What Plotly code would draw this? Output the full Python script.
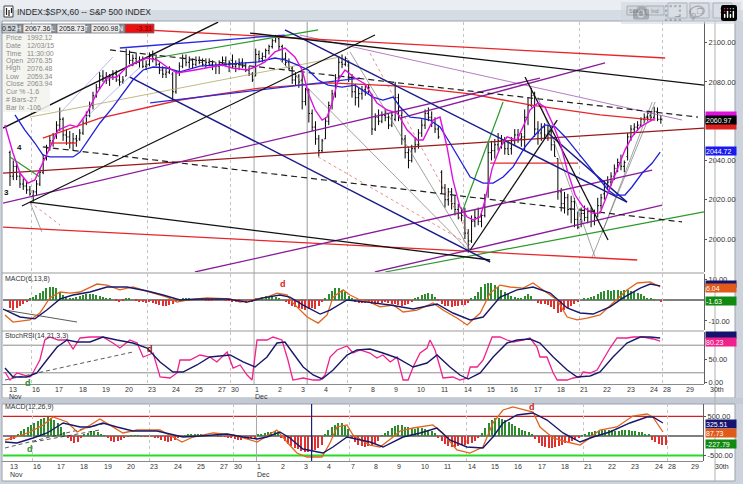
import plotly.graph_objects as go

W, H = 743, 484

# ---------------- data ----------------
day_labels = ["13", "16", "17", "18", "19", "20", "23", "24", "25", "27", "30", "1", "2", "3", "4", "7",
              "8", "9", "10", "11", "14", "15", "16", "17", "18", "21", "22", "23", "24", "28", "29", "30th"]
day_first_bar = [0, 7, 14, 21, 28, 35, 42, 49, 56, 63, 67, 74, 81, 88, 95, 102,
                 109, 116, 123, 130, 137, 144, 151, 158, 165, 172, 179, 186, 193, 197, 204, 211]
month_names = ["Nov", "Dec"]
month_first_bar = [0, 74]
monday_first_bar = [7, 42, 67, 102, 137, 172, 197]
cursor_bar = 90

bar_open = [2044, 2032, 2037, 2032, 2028, 2027, 2025, 2022, 2024, 2028, 2034, 2041, 2046, 2050,
            2053, 2058, 2061, 2053, 2052, 2049, 2051, 2051, 2054, 2059, 2063, 2068, 2073, 2077,
            2083, 2082, 2081, 2083, 2084, 2081, 2080, 2083, 2094, 2091, 2092, 2090, 2091, 2088,
            2089, 2093, 2092, 2089, 2086, 2084, 2085, 2084, 2075, 2085, 2088, 2092, 2090, 2091,
            2089, 2091, 2090, 2089, 2090, 2089, 2088, 2088, 2089, 2091, 2089,
            2091, 2088, 2089, 2090, 2088, 2086, 2084, 2083, 2094, 2092, 2093, 2096, 2098, 2101,
            2102, 2098, 2092, 2090, 2087, 2081, 2083, 2081, 2070, 2076.35, 2064, 2057, 2051, 2045,
            2051, 2060, 2068, 2074, 2082, 2090, 2089, 2090, 2082, 2075, 2072, 2074, 2076, 2075,
            2073, 2056, 2062, 2060, 2063, 2062, 2058, 2061, 2072, 2063, 2051, 2044, 2040, 2046,
            2048, 2054, 2058, 2064, 2062, 2059, 2056, 2034, 2026, 2020, 2024, 2018, 2015, 2013,
            2013, 2003, 1999, 2009, 2011, 2009, 2012, 2026, 2044, 2045, 2048, 2050, 2049, 2046,
            2046, 2050, 2053, 2051, 2052, 2062, 2068, 2073, 2056, 2054, 2057, 2053, 2055, 2048,
            2041, 2024, 2018, 2021, 2015, 2019, 2010, 2010, 2013, 2011, 2014, 2009, 2013, 2017,
            2023, 2027, 2029, 2032, 2036, 2039, 2037, 2042, 2052, 2056, 2057, 2058, 2061, 2062,
            2063, 2062, 2065, 2061]
bar_high = [2045, 2040, 2039, 2034, 2031, 2029, 2027, 2025, 2030, 2036, 2043, 2048, 2053, 2054,
            2060, 2067, 2062, 2056, 2055, 2054, 2053, 2056, 2061, 2065, 2070, 2075, 2079, 2085,
            2086, 2085, 2084, 2086, 2086, 2084, 2083, 2097, 2096, 2094, 2095, 2093, 2093, 2091,
            2095, 2096, 2094, 2090, 2088, 2087, 2088, 2085, 2086, 2090, 2094, 2094, 2093, 2092,
            2093, 2093, 2092, 2092, 2092, 2091, 2090, 2091, 2093, 2093, 2091,
            2094, 2091, 2092, 2092, 2090, 2088, 2085, 2097, 2096, 2095, 2097, 2099, 2102, 2104,
            2104, 2099, 2095, 2092, 2088, 2085, 2084, 2085, 2077, 2076.48, 2066, 2060, 2053, 2051,
            2062, 2070, 2076, 2084, 2093, 2094, 2093, 2091, 2084, 2079, 2077, 2078, 2079, 2079,
            2074, 2064, 2066, 2065, 2066, 2064, 2065, 2080, 2074, 2066, 2053, 2047, 2048, 2052,
            2056, 2061, 2066, 2067, 2065, 2062, 2058, 2035, 2028, 2026, 2026, 2022, 2018, 2016,
            2016, 2005, 2012, 2015, 2016, 2014, 2023, 2049, 2050, 2051, 2054, 2053, 2052, 2050,
            2052, 2056, 2056, 2054, 2066, 2072, 2077, 2075, 2060, 2059, 2059, 2058, 2056, 2050,
            2041, 2026, 2024, 2023, 2022, 2021, 2014, 2016, 2017, 2016, 2016, 2015, 2021, 2023,
            2030, 2032, 2034, 2038, 2041, 2043, 2040, 2054, 2058, 2059, 2060, 2062, 2064, 2065,
            2065, 2067.36, 2067, 2063]
bar_low = [2027, 2030, 2030, 2026, 2025, 2023, 2022, 2019, 2022, 2027, 2033, 2040, 2045, 2047,
           2051, 2055, 2050, 2048, 2046, 2045, 2047, 2050, 2053, 2058, 2062, 2066, 2072, 2076,
           2080, 2079, 2078, 2081, 2080, 2078, 2079, 2083, 2089, 2088, 2089, 2087, 2087, 2086,
           2088, 2090, 2088, 2084, 2082, 2082, 2084, 2070, 2074, 2083, 2087, 2088, 2087, 2087,
           2088, 2089, 2088, 2087, 2088, 2086, 2084, 2084, 2088, 2088, 2085,
           2087, 2085, 2086, 2087, 2085, 2083, 2080, 2083, 2090, 2090, 2092, 2094, 2097, 2100,
           2096, 2090, 2088, 2086, 2079, 2078, 2077, 2066, 2068, 2059.34, 2055, 2048, 2042, 2044,
           2051, 2058, 2066, 2072, 2080, 2087, 2088, 2080, 2072, 2068, 2067, 2071, 2073, 2074,
           2053, 2055, 2058, 2059, 2060, 2056, 2057, 2060, 2060, 2048, 2041, 2036, 2039, 2044,
           2046, 2052, 2056, 2060, 2057, 2054, 2051, 2023, 2016, 2017, 2015, 2012, 2010, 2009,
           2000, 1993, 1998, 2006, 2007, 2006, 2011, 2021, 2040, 2041, 2045, 2046, 2043, 2043,
           2043, 2048, 2049, 2047, 2045, 2058, 2067, 2052, 2048, 2050, 2051, 2050, 2045, 2042,
           2020, 2014, 2013, 2012, 2008, 2006, 2005, 2006, 2009, 2008, 2006, 2007, 2011, 2015,
           2020, 2025, 2027, 2030, 2034, 2035, 2034, 2040, 2050, 2053, 2055, 2057, 2059, 2060,
           2060, 2061, 2060, 2058.73]
bar_close = [2032, 2037, 2032, 2028, 2027, 2025, 2023, 2024, 2028, 2034, 2041, 2046, 2050, 2053,
             2058, 2061, 2053, 2052, 2049, 2051, 2050, 2054, 2059, 2063, 2068, 2073, 2077, 2083,
             2082, 2081, 2083, 2084, 2081, 2080, 2081, 2094, 2091, 2092, 2090, 2091, 2088, 2089,
             2093, 2092, 2089, 2086, 2084, 2085, 2087, 2075, 2085, 2088, 2092, 2090, 2091, 2089,
             2091, 2090, 2089, 2090, 2089, 2088, 2088, 2089, 2091, 2089, 2090,
             2088, 2089, 2090, 2088, 2086, 2084, 2081, 2094, 2092, 2093, 2096, 2098, 2101, 2103,
             2098, 2092, 2090, 2087, 2081, 2083, 2080, 2070, 2076, 2063.94, 2057, 2051, 2045, 2050,
             2060, 2068, 2074, 2082, 2090, 2089, 2092, 2082, 2075, 2072, 2074, 2076, 2075, 2077,
             2056, 2062, 2060, 2063, 2062, 2058, 2063, 2072, 2063, 2051, 2044, 2040, 2046, 2048,
             2054, 2058, 2064, 2062, 2059, 2056, 2052, 2026, 2020, 2024, 2018, 2015, 2013, 2012,
             2003, 1999, 2009, 2011, 2009, 2012, 2021, 2044, 2045, 2048, 2050, 2049, 2046, 2043,
             2050, 2053, 2051, 2052, 2062, 2068, 2073, 2056, 2054, 2057, 2053, 2055, 2048, 2042,
             2024, 2018, 2021, 2015, 2019, 2010, 2006, 2013, 2011, 2014, 2009, 2013, 2017, 2021,
             2027, 2029, 2032, 2036, 2039, 2037, 2039, 2052, 2056, 2057, 2058, 2061, 2062, 2064,
             2062, 2065, 2061, 2060.98]

# moving averages on the price panel (bar position, price)
ma_fast_x = [-1.5, 0.9, 3.0, 5.4, 7.5, 9.9, 12.0, 14.5, 18.1, 20.2, 23.2, 26.2, 29.2, 32.2, 35.2, 38.3,
             41.3, 44.3, 47.3, 50.3, 55.7, 63.9, 66.9, 71.4, 73.8, 76.8, 79.8, 82.8, 85.8, 88.0, 89.8,
             91.9, 94.0, 95.5, 97.0, 98.8, 100.9, 103.9, 106.9, 110.5, 113.6, 116.6, 119.6, 122.6,
             124.4, 127.4, 129.5, 131.6, 133.4, 135.5, 137.7, 139.5, 141.6, 143.1, 145.2, 147.6,
             149.7, 152.7, 154.5, 156.6, 159.0, 161.1, 163.6, 165.7, 167.8, 170.2, 172.6, 175.3,
             177.7, 179.2, 180.7, 182.8, 185.2, 187.3, 189.8, 192.2, 194.3]
ma_fast_y = [2058.1, 2043.8, 2033.6, 2028.5, 2030.1, 2038.7, 2046.9, 2055.5, 2058.1, 2057.1, 2064.2,
             2074.4, 2082.0, 2082.5, 2087.6, 2090.2, 2092.2, 2091.2, 2087.6, 2084.6, 2086.1, 2088.6,
             2087.1, 2086.1, 2087.6, 2090.2, 2095.3, 2097.3, 2092.7, 2086.1, 2074.4, 2065.7, 2060.6,
             2062.1, 2069.3, 2081.0, 2086.1, 2082.0, 2079.0, 2069.3, 2065.7, 2064.2, 2055.5, 2050.4,
             2050.4, 2060.6, 2062.1, 2046.9, 2030.1, 2016.3, 2011.2, 2009.7, 2011.2, 2020.0, 2036.0,
             2046.5, 2052.0, 2050.4, 2057.1, 2065.7, 2069.3, 2067.2, 2058.1, 2048.9, 2035.1, 2022.4,
             2016.3, 2013.2, 2013.2, 2019.9, 2026.5, 2035.1, 2045.3, 2052.0, 2057.1, 2059.6, 2061.6]
ma_slow_x = [1.5, 4.5, 7.5, 9.9, 12.0, 19.0, 21.1, 24.1, 27.1, 31.0, 34.0, 37.0, 40.1, 43.1, 47.3,
             51.2, 57.2, 69.9, 74.7, 79.8, 82.8, 86.7, 89.8, 92.8, 95.8, 100.0, 103.9, 109.3, 112.3,
             115.4, 117.5, 120.5, 123.5, 126.5, 129.5, 132.5, 135.5, 138.6, 142.5, 145.5, 148.5,
             151.5, 155.1, 158.1, 161.1, 164.2, 167.2, 171.1, 175.3, 178.3, 180.1, 182.2, 185.2,
             187.3, 190.4, 193.4, 195.8]
ma_slow_y = [2063.2, 2055.5, 2048.9, 2042.8, 2041.8, 2041.8, 2044.3, 2052.0, 2059.1, 2067.2, 2074.4,
             2081.0, 2086.1, 2087.6, 2087.1, 2085.1, 2088.1, 2089.7, 2090.2, 2092.2, 2091.2, 2088.6,
             2086.1, 2081.0, 2078.4, 2077.4, 2078.4, 2072.3, 2070.8, 2072.3, 2067.2, 2062.1, 2061.6,
             2060.6, 2057.1, 2048.9, 2040.2, 2031.6, 2028.5, 2028.5, 2031.6, 2036.7, 2046.9, 2053.0,
             2058.1, 2057.1, 2052.0, 2043.8, 2035.1, 2028.5, 2025.0, 2022.4, 2022.4, 2026.5, 2033.6,
             2038.7, 2044.3]

# drawn trend lines: (bar0, price0, bar1, price1)
black_lines = [(-2.1, 2056.5, 62.7, 2110.5), (3.6, 2016.8, 109.9, 2103.9), (6.0, 2018.8, 144.6, 1989.3),
               (72.3, 2104.9, 209.0, 2078.4), (138.6, 1994.4, 164.8, 2060.6), (155.1, 2082.5, 180.1, 1999.5)]
red_lines = [(13.0, 2109.0, 197.3, 2092.2), (-2.1, 2006.1, 188.9, 1989.3), (144.6, 2038.7, 171.1, 2038.7),
             (12.0, 2048.9, 20.2, 2048.9)]
red_arc_x = [9.9, 27.1, 51.2, 75.3, 96.4, 117.5, 138.6, 156.6, 177.7, 194.3]
red_arc_y = [2051.4, 2061.6, 2070.8, 2076.9, 2079.5, 2077.9, 2073.9, 2068.3, 2063.2, 2060.6]
maroon_lines = [(-2.1, 2033.6, 209.0, 2056.5)]
navy_lines = [(36.1, 2082.5, 144.6, 1988.3), (82.8, 2106.5, 185.8, 2018.8), (162.0, 2054.0, 185.8, 2018.8)]
blue_lines = [(42.2, 2069.3, 105.4, 2082.0), (33.1, 2097.3, 82.8, 2103.9)]
green_lines = [(43.7, 2092.2, 92.8, 2106.5), (113.0, 1983.2, 209.0, 2013.8), (136.4, 2014.8, 148.5, 2069.8),
               (0.0, 2041.8, 9.0, 2031.6)]
purple_lines = [(-2.1, 2018.3, 159.6, 2082.0), (55.7, 1983.2, 193.4, 2035.1), (109.9, 1983.2, 196.4, 2017.3),
                (117.5, 2061.6, 179.2, 2089.7)]
purple_thin_lines = [(87.3, 2103.9, 202.4, 2060.6)]
dashed_lines = [(9.9, 2046.9, 202.4, 2008.7), (30.1, 2096.3, 207.2, 2062.1)]
gray_thin_lines = [(81.3, 2091.2, 138.0, 1994.4), (102.4, 2095.3, 138.6, 1994.4), (159.0, 2072.3, 176.2, 1990.8),
                   (175.3, 1990.8, 194.3, 2069.8), (178.3, 2003.1, 193.4, 2069.8), (6.0, 2018.8, 9.6, 2003.6)]
olive_thin_lines = [(6.0, 2062.1, 99.4, 2092.7)]
red_thin_lines = [(92.8, 2041.8, 138.6, 1996.9), (108.4, 2094.7, 138.6, 2001.0), (6.0, 2018.8, 15.1, 2007.1)]
lavender_thin_lines = [(15.1, 2064.2, 31.0, 2092.7), (21.1, 2059.1, 39.2, 2087.6)]

# MACD(6,13,8)
macd1_hist = [-4, -5, -4, -3, -2, -1,
              0.5, 1.5, 2.5, 3.5, 4.5, 5.5, 6, 6.2, 5.5, 4, 2.5, 1.5,
              1, 1, 1.5, 2, 2.5, 3, 3, 3, 2.5, 2, 1.5, 1, 0.5,
              0, -0.5, -1, -0.5, 0.5, 0.5, 0, -0.5, -1, -1, -1.5, -1, -1.5, -2, -2.5, -3, -3, -2.5, -2, -1, 0,
              0.5, 0.5, 0.5, 0.3, 0.3, 0.3, 0.2, -0.2, -0.3, -0.3, 0.2, 0.3, 0.2, -0.3, -0.5, -0.8, -1, -0.8,
              -1, -1.2, -1, -0.8,
              0.5, 1, 1.5, 2, 2, 2, 1.5, 1, 0,
              -1, -2, -3, -3.5, -4, -4.5, -5, -4.5, -4, -4.5, -3,
              -1, 1, 3, 4.5, 5.5, 5.5, 5, 4, 2, 0.5,
              -1, -1.5, -1.5, -1.5, -1,
              -2, -2.5, -2, -1.5, -1, -1.5, -2, -2, -2.5, -3, -2.5, -2, -1,
              0.5, 1.5, 2.5, 3, 3.5, 3, 1.5,
              -0.5, -2, -3, -3, -3.5, -3, -3, -2.5, -2.5, -1.5,
              0.5, 2, 4, 6, 7.5, 8, 8, 7, 6, 5, 4, 3, 2, 1.5,
              1, 1, 2, 3, 2,
              0, -1.5, -2, -2, -2.5, -3.5, -4.5, -6, -5.5, -5, -4, -3, -2, -1,
              0, 0.5, 1, 1.5, 2, 3, 4, 4.5, 5, 4.5, 5, 5, 4.5, 5, 5, 4.5, 4, 3.5, 3, 2,
              1, 0.5, 0.3, 0, -1]
macd1_signal_x = [-2.1, 3.0, 7.5, 11.1, 15.1, 19.0, 24.1, 29.2, 35.2, 41.3, 46.1, 51.2, 57.2, 65.4, 71.4,
                  76.2, 81.3, 84.3, 88.3, 93.4, 96.4, 101.5, 107.5, 114.5, 121.4, 128.6, 133.4, 138.6,
                  142.5, 147.6, 152.7, 157.5, 162.7, 167.8, 171.7, 175.6, 180.7, 184.6, 189.8, 192.8, 195.8]
macd1_signal_y = [-4.3, -8.1, -9.0, -4.8, 0.5, 2.4, 3.8, 6.2, 6.2, 4.3, 2.4, 0, 0.5, 0.5, -1.0, 1.0, 2.4,
                  1.4, -2.4, -6.7, -4.8, 0, -1.0, -2.4, -4.3, -1.9, -6.2, -9.5, -8.1, 1.4, 4.8, 6.2, 3.3,
                  -3.8, -6.2, -6.7, -3.3, 1.0, 5.7, 7.6, 6.7]
macd1_line_x = [-1.5, 0.9, 6.0, 9.0, 12.0, 15.1, 18.1, 21.1, 26.2, 29.2, 33.1, 37.0, 42.2, 47.3, 50.3,
                53.3, 59.3, 66.3, 69.3, 73.2, 77.4, 80.4, 83.4, 85.2, 89.5, 92.8, 95.5, 97.3, 100.3,
                102.4, 105.4, 108.4, 111.4, 115.4, 118.4, 122.6, 127.4, 130.4, 134.6, 137.7, 141.6,
                144.6, 147.6, 150.6, 154.5, 157.5, 160.5, 164.8, 167.8, 170.8, 173.8, 177.7, 181.6,
                185.8, 188.9, 192.8, 195.8]
macd1_line_y = [-7.1, -10.5, -9.5, -6.2, 1.0, 3.8, 3.3, 3.8, 7.6, 7.1, 4.8, 6.2, 3.8, 1.4, -1.0, 0, 1.0,
                0.5, -1.0, 0, 1.4, 3.3, 2.4, -1.4, -8.1, -11.0, -7.1, 1.4, 4.8, 2.4, 0, -1.0, -3.3, -2.4,
                -5.7, -4.8, -1.4, -4.8, -8.6, -11.9, -6.2, 3.3, 7.1, 6.2, 5.7, 8.1, 4.8, 0, -8.1, -9.5,
                -8.6, -7.1, -1.4, 4.8, 8.1, 8.6, 6.2]

# StochRSI(14,21,3,3)
stoch_k_x = [-1.5, 0, 2.1, 3.9, 6.0, 6.9, 9.0, 10.5, 12.0, 14.5, 17.2, 19.0, 21.1, 24.1, 28.0, 31.0, 33.1,
             36.1, 38.3, 40.1, 43.1, 45.2, 48.2, 50.3, 51.2, 54.2, 57.2, 60.2, 62.3, 65.4, 67.2, 69.3,
             71.4, 72.9, 74.4, 77.4, 79.2, 81.9, 83.7, 85.2, 88.3, 91.3, 93.4, 94.9, 96.4, 98.5, 101.5,
             103.3, 105.4, 108.4, 110.5, 112.3, 114.5, 116.6, 118.4, 119.9, 121.4, 123.5, 125.6, 126.5,
             128.0, 129.5, 130.4, 133.4, 135.5, 137.7, 138.6, 140.7, 142.5, 145.2, 147.6, 149.7, 151.5,
             154.5, 156.6, 158.7, 159.6, 161.7, 163.6, 164.8, 167.8, 169.6, 171.7, 172.6, 174.7, 176.8,
             178.6, 180.7, 182.8, 185.8, 187.7, 190.7, 193.7, 195.8]
stoch_k_y = [21.7, 4.3, 19.6, 15.2, 10.9, 19.6, 47.8, 91.3, 97.8, 91.3, 91.3, 71.7, 95.7, 97.8, 97.8, 84.8,
             73.9, 91.3, 84.8, 54.3, 63.0, 10.9, 8.7, 19.6, 47.8, 47.8, 58.7, 54.3, 43.5, 65.2, 30.4, 37.0,
             15.2, 4.3, 91.3, 91.3, 97.8, 91.3, 47.8, 4.3, 8.7, 4.3, 4.3, 15.2, 54.3, 69.6, 78.3, 63.0,
             69.6, 63.0, 52.2, 58.7, 43.5, 54.3, 4.3, 4.3, 32.6, 63.0, 73.9, 91.3, 69.6, 32.6, 8.7, 10.9,
             4.3, 8.7, 32.6, 32.6, 47.8, 97.8, 97.8, 91.3, 87.0, 91.3, 95.7, 76.1, 54.3, 54.3, 19.6, 4.3,
             4.3, 8.7, 10.9, 21.7, 19.6, 26.1, 47.8, 73.9, 95.7, 95.7, 97.8, 97.8, 93.5, 89.1]
stoch_d_x = [-1.5, 0.9, 5.1, 8.1, 11.1, 14.2, 17.2, 20.2, 24.1, 28.0, 32.2, 37.0, 41.3, 45.2, 49.1, 52.1,
             56.3, 60.2, 66.3, 70.2, 73.8, 77.4, 80.4, 82.8, 85.2, 88.3, 91.3, 94.0, 97.3, 101.5, 104.5,
             108.4, 112.3, 116.6, 121.4, 125.6, 128.6, 132.5, 135.5, 138.0, 141.6, 145.5, 149.7, 152.7,
             156.6, 159.6, 163.6, 167.8, 170.8, 174.7, 177.7, 181.6, 185.8, 189.8, 192.8, 195.8]
stoch_d_y = [30.4, 10.9, 10.9, 19.6, 47.8, 76.1, 91.3, 87.0, 87.0, 97.8, 91.3, 84.8, 73.9, 43.5, 21.7, 21.7,
             37.0, 54.3, 58.7, 43.5, 32.6, 54.3, 84.8, 87.0, 63.0, 32.6, 15.2, 6.5, 26.1, 58.7, 69.6, 71.7,
             63.0, 52.2, 32.6, 41.3, 58.7, 32.6, 15.2, 6.5, 19.6, 54.3, 84.8, 91.3, 93.5, 84.8, 54.3, 26.1,
             10.9, 13.0, 21.7, 54.3, 84.8, 97.8, 97.8, 95.7]

# MACD(12,26,9) lower window
macd2_hist = [-100, -80, 60, 120, 180, 220, 280, 330, 380, 430,
              470, 485, 470, 420, 330, 230, 100, -60, -130, -178,
              -150, -60, 40, 80, 120, 130, 100, 60, 20, -60,
              -120, -150, -140, -100, -60, -20, 10, 20, 10, -10,
              -20, -10, 0, -30, -60, -100, -140, -150, -130, -90,
              -40, 0, 20, 30, 30, 40, 40, 30, 20, 20,
              10, 0, -10, -20, -10, -30, -50, -80, -100, -90,
              -80, -70, -60, -30, 30, 60, 80, 100, 110, 120,
              80, -40, -120, -200, -260, -300, -340, -380, -400, -408,
              -380, -350, -300, -220, 60, 150, 230, 290, 330, 320,
              260, 180, -50, -150, -220, -260, -280, -250, -230, -200,
              -120, 20, 80, 140, 200, 250, 281, 270, 240, 220,
              200, 190, 200, 210, 190, 160, 130, 80, -40, -120,
              -200, -250, -280, -270, -250, -230, -220, -200, -170, -120,
              -60, 80, 200, 320, 400, 450, 460, 440, 400, 350,
              300, 250, 200, 150, 120, 90, 60, -80, -180, -250,
              -290, -306, -300, -280, -250, -220, -190, -160, -120, -90,
              -50, 20, 60, 90, 110, 130, 140, 150, 153, 150,
              145, 140, 140, 145, 150, 145, 140, 130, 110, 90,
              60, 30, -100, -160, -200, -230, -230]
macd2_signal_x = [-1.8, 1.8, 6.6, 10.8, 15.6, 20.7, 23.7, 27.5, 31.7, 36.5, 43.7, 47.6, 51.5, 56.6, 64.7,
                  69.5, 73.7, 76.6, 80.5, 83.5, 87.4, 93.4, 96.4, 100.6, 107.5, 111.4, 117.4, 122.5,
                  127.5, 131.4, 136.5, 141.3, 144.3, 147.3, 151.5, 156.3, 160.5, 165.3, 170.4, 174.3,
                  179.3, 185.3, 190.4, 192.2, 195.2]
macd2_signal_y = [-153, -179, -51, 77, 332, 230, 230, 332, 230, 128, 128, 51, -26, 0, 51, -26, -77, -26,
                  102, -51, -332, -434, -281, -26, -153, -281, -26, 77, 204, -102, -281, -306, -26, 332,
                  536, 587, 408, 77, -153, -26, 102, 332, 485, 485, 332]
macd2_line_x = [-1.8, 0.6, 5.7, 9.6, 12.6, 16.8, 19.8, 22.8, 26.6, 30.5, 33.5, 37.7, 44.6, 48.5, 51.2,
                54.5, 60.5, 66.5, 70.7, 73.7, 76.6, 79.6, 82.6, 85.6, 88.6, 93.1, 95.5, 97.6, 100.6,
                102.4, 107.5, 110.5, 114.4, 116.5, 120.4, 126.3, 129.3, 133.5, 137.4, 141.3, 144.3,
                147.3, 150.3, 154.5, 156.3, 158.4, 162.3, 166.5, 170.4, 172.5, 176.3, 181.4, 186.2,
                190.4, 192.2, 195.2]
macd2_line_y = [-102, -51, 102, 281, 485, 357, 102, 230, 434, 230, 77, 153, 153, -26, -153, -26, 77, 26,
                -77, -153, 0, 153, -153, -434, -536, -536, -179, 230, 281, 26, -230, -281, -26, 128, 204,
                281, 77, -357, -434, -281, 332, 663, 740, 663, 612, 230, -51, -153, -230, -102, 153, 230,
                510, 561, 485, 102]

# study labels and small annotations drawn on the chart
price_marks = [("4", 3.0, 2046.4), ("3", -0.9, 2023.9)]
data_window_labels = ["Price", "Date", "Time", "Open", "High", "Low", "Close", "Cur %", "# Bars", "Bar Ix"]
data_window_values = ["1992.12", "12/03/15", "11:30:00", "2076.35", "2076.48", "2059.34", "2063.94",
                      "-1.6", "-27", "-106"]
info_cells = ["0.52", "H", "2067.36", "L", "2058.73", "T", "2060.98", "N", "-3.31"]

assert len(bar_open) == len(bar_high) == len(bar_low) == len(bar_close) == 197
assert len(macd1_hist) == 197 and len(macd2_hist) == 197
assert len(ma_fast_x) == len(ma_fast_y) and len(ma_slow_x) == len(ma_slow_y)
assert len(macd1_signal_x) == len(macd1_signal_y) and len(macd1_line_x) == len(macd1_line_y)
assert len(stoch_k_x) == len(stoch_k_y) and len(stoch_d_x) == len(stoch_d_y)
assert len(macd2_signal_x) == len(macd2_signal_y) and len(macd2_line_x) == len(macd2_line_y)

bar_index = list(range(len(bar_close)))

# ---------------- layout helpers ----------------
FONT = "Liberation Sans"


def fx(p):
    return p / W


def fy(p):
    return 1 - p / H


def dom(top, bot):
    return [fy(bot), fy(top)]


XDOM = [fx(3), fx(704)]
XDOM_LO = [fx(3), fx(703)]
XR_UP = [-2.1, 209.0]
XR_LO = [-2.4, 207.2]


def upper_paper_x(b):
    return XDOM[0] + (b - XR_UP[0]) / (XR_UP[1] - XR_UP[0]) * (XDOM[1] - XDOM[0])


def lower_paper_x(b):
    return XDOM_LO[0] + (b - XR_LO[0]) / (XR_LO[1] - XR_LO[0]) * (XDOM_LO[1] - XDOM_LO[0])


fig = go.Figure()


def segs(lines):
    xs, ys = [], []
    for x0, y0, x1, y1 in lines:
        xs += [x0, x1, None]
        ys += [y0, y1, None]
    return xs, ys


def add_lines(lines, color, width, dash="solid", xa="x", ya="y"):
    xs, ys = segs(lines)
    fig.add_trace(go.Scatter(x=xs, y=ys, mode="lines", line=dict(color=color, width=width, dash=dash),
                             hoverinfo="skip", xaxis=xa, yaxis=ya))


def add_curve(xs, ys, color, width, xa="x", ya="y", dash="solid"):
    fig.add_trace(go.Scatter(x=xs, y=ys, mode="lines", line=dict(color=color, width=width, dash=dash),
                             hoverinfo="skip", xaxis=xa, yaxis=ya))


# price-panel drawings (behind bars)
add_lines(gray_thin_lines, "#7a7a7a", 0.7)
add_lines(red_thin_lines, "#e25a5a", 0.7, "dot")
add_lines(olive_thin_lines, "#b0aa60", 0.8)
add_lines(lavender_thin_lines, "#a8a8e8", 0.8)
add_lines(purple_thin_lines, "#a35ab5", 0.8)
add_lines(maroon_lines, "#9a1818", 1.3)
add_curve(red_arc_x, red_arc_y, "#e8262a", 1.3)
add_lines(red_lines, "#e8262a", 1.3)
add_lines(purple_lines, "#8a1c9c", 1.3)
add_lines(green_lines, "#2a9a2a", 1.2)
add_lines(blue_lines, "#2a2ae0", 1.3)
add_lines(navy_lines, "#1a1a8a", 1.5)
add_lines(dashed_lines, "#202020", 1.2, "6px,4px")
add_lines(black_lines, "#111111", 1.3)
add_curve(ma_slow_x, ma_slow_y, "#2020d8", 1.3)
add_curve(ma_fast_x, ma_fast_y, "#e010e0", 1.4)

fig.add_trace(go.Ohlc(x=bar_index, open=bar_open, high=bar_high, low=bar_low, close=bar_close,
                      increasing=dict(line=dict(color="#000000", width=1)),
                      decreasing=dict(line=dict(color="#000000", width=1)),
                      tickwidth=0.35, hoverinfo="skip", xaxis="x", yaxis="y"))

# MACD(6,13,8)
fig.add_trace(go.Bar(x=bar_index, y=macd1_hist, width=0.35,
                     marker=dict(color=["#2e8b2e" if v >= 0 else "#e03030" for v in macd1_hist], line=dict(width=0)),
                     hoverinfo="skip", xaxis="x2", yaxis="y2"))
add_lines([(-1.5, -4.8, 20.2, -10.5)], "#303030", 0.8, xa="x2", ya="y2")
add_curve(macd1_line_x, macd1_line_y, "#e0641e", 1.3, "x2", "y2")
add_curve(macd1_signal_x, macd1_signal_y, "#18186a", 1.4, "x2", "y2")

# StochRSI
add_lines([(-1.5, 4.3, 37.0, 65.2)], "#303030", 0.8, "4px,3px", xa="x3", ya="y3")
add_curve(stoch_k_x, stoch_k_y, "#f0208c", 1.3, "x3", "y3")
add_curve(stoch_d_x, stoch_d_y, "#18186a", 1.4, "x3", "y3")

# MACD(12,26,9)
fig.add_trace(go.Bar(x=bar_index, y=macd2_hist, width=0.35,
                     marker=dict(color=["#2e8b2e" if v >= 0 else "#e03030" for v in macd2_hist], line=dict(width=0)),
                     hoverinfo="skip", xaxis="x4", yaxis="y4"))
add_lines([(-1.8, -306, 28.7, 332), (6.6, -153, 26.6, 153)], "#303030", 0.8, "4px,3px", xa="x4", ya="y4")
add_curve(macd2_line_x, macd2_line_y, "#e0641e", 1.3, "x4", "y4")
add_curve(macd2_signal_x, macd2_signal_y, "#18186a", 1.4, "x4", "y4")

# ---------------- axes ----------------
xcommon = dict(showticklabels=False, ticks="", showgrid=True, gridcolor="#c4c4c4", griddash="dot",
               gridwidth=1, zeroline=False, showline=False, fixedrange=True, automargin=False)
ycommon = dict(side="right", showgrid=False, zeroline=False, ticks="outside", ticklen=2, tickcolor="#555",
               showline=True, linecolor="#606060", linewidth=1, fixedrange=True, automargin=False,
               tickfont=dict(family=FONT, size=7.5, color="#333"))

monday_grid = [b - 0.5 for b in monday_first_bar]

fig.update_layout(
    width=W, height=H, margin=dict(l=0, r=0, t=0, b=0, pad=0), autosize=False,
    paper_bgcolor="#cdd3dc", plot_bgcolor="#ffffff", showlegend=False,
    font=dict(family=FONT, size=8, color="#333"), barmode="overlay", bargap=0,
    xaxis=dict(domain=XDOM, range=XR_UP, anchor="y", tickvals=monday_grid, rangeslider=dict(visible=False), **xcommon),
    yaxis=dict(domain=dom(22, 272), range=[1983.19, 2110.54], anchor="x",
               tickvals=[2000, 2020, 2040, 2060, 2080, 2100],
               ticktext=["2000.00", "2020.00", "2040.00", "", "2080.00", "2100.00"], **ycommon),
    xaxis2=dict(domain=XDOM, range=XR_UP, anchor="y2", tickvals=monday_grid, **xcommon),
    yaxis2=dict(domain=dom(274, 330), range=[-14.29, 12.38], anchor="x2", tickvals=[10, -10],
                ticktext=["10.00", "-10.00"], **ycommon),
    xaxis3=dict(domain=XDOM, range=XR_UP, anchor="y3", tickvals=monday_grid, **xcommon),
    yaxis3=dict(domain=dom(332, 384), range=[-4.35, 108.7], anchor="x3", tickvals=[50, 0],
                ticktext=["50.00", "0.00"], **ycommon),
    xaxis4=dict(domain=XDOM_LO, range=XR_LO, anchor="y4", tickvals=monday_grid, **xcommon),
    yaxis4=dict(domain=dom(404, 461), range=[-637.5, 816], anchor="x4", tickvals=[500, -500],
                ticktext=["500.00", "-500.00"], **ycommon),
)
fig.update_xaxes(rangeslider_visible=False)

shapes = []


def prect(x0, y0, x1, y1, fill, line=None, lw=0, layer="below"):
    shapes.append(dict(type="rect", xref="paper", yref="paper", x0=fx(x0), x1=fx(x1), y0=fy(y1), y1=fy(y0),
                       fillcolor=fill, line=dict(color=line or fill, width=lw), layer=layer))


def pline(x0, y0, x1, y1, color, width=1, layer="above", dash="solid"):
    shapes.append(dict(type="line", xref="paper", yref="paper", x0=fx(x0), x1=fx(x1), y0=fy(y0), y1=fy(y1),
                       line=dict(color=color, width=width, dash=dash), layer=layer))


# window chrome
prect(0, 0, 743, 10, "#eaedf1")
prect(0, 10, 743, 21, "#d6dce4")
prect(2, 21, 735, 398, "#ffffff", "#9aa3ae", 1)
prect(0, 398, 743, 404, "#c3cad3")
prect(2, 404, 735, 481, "#ffffff", "#9aa3ae", 1)
pline(2, 273, 704, 273, "#9a9a9a", 1)
pline(2, 331, 704, 331, "#9a9a9a", 1)
pline(2, 384.5, 704, 384.5, "#8a8a8a", 1)
pline(2, 461.5, 703, 461.5, "#8a8a8a", 1)
pline(715, 21, 715, 481, "#b0b0b0", 1)
# title icon and buttons
prect(4, 6, 13, 17, "#ffffff", "#404040", 1, "above")
pline(6.5, 8, 6.5, 15, "#202020", 1.2)
pline(9, 10, 9, 16, "#202020", 1.2)
pline(11.5, 8, 11.5, 13, "#202020", 1.2)
prect(627, 6, 645, 15, "#d4d8de", "#7f8892", 1, "above")
prect(646, 6, 664, 15, "#d4d8de", "#7f8892", 1, "above")
for bx in (668, 690, 713):
    prect(bx, 3, bx + 19, 18, "#e4e7ec", "#8c949e", 1, "above")

# reference lines in the indicator panels
for ya, val, col, wd in (("y2", 0, "#000000", 1.2), ("y3", 80, "#8c8c8c", 1), ("y3", 20, "#8c8c8c", 1),
                         ("y4", 500, "#d42020", 1.2), ("y4", 0, "#000000", 1.2), ("y4", -500, "#22dd22", 2)):
    xa = "x4" if ya == "y4" else "x" + ya[1:]
    shapes.append(dict(type="line", xref=xa + " domain", yref=ya, x0=0, x1=1, y0=val, y1=val,
                       line=dict(color=col, width=wd), layer="below"))

# month boundary and cursor lines
shapes.append(dict(type="line", xref="x", yref="paper", x0=month_first_bar[1] - 0.5, x1=month_first_bar[1] - 0.5,
                   y0=fy(384), y1=fy(22), line=dict(color="#a8a8a8", width=1), layer="below"))
shapes.append(dict(type="line", xref="x", yref="paper", x0=cursor_bar - 0.5, x1=cursor_bar - 0.5,
                   y0=fy(384), y1=fy(22), line=dict(color="#9a9a9a", width=1), layer="below"))
shapes.append(dict(type="line", xref="x4", yref="paper", x0=month_first_bar[1] - 0.5, x1=month_first_bar[1] - 0.5,
                   y0=fy(461), y1=fy(404), line=dict(color="#a8a8a8", width=1), layer="below"))
shapes.append(dict(type="line", xref="x4", yref="paper", x0=cursor_bar, x1=cursor_bar,
                   y0=fy(461), y1=fy(404), line=dict(color="#20207a", width=1.2), layer="above"))

# info bar cells
cell_x = [(2, 18), (18, 23), (23, 52), (52, 57), (57, 86), (86, 91), (91, 120), (120, 125), (125, 154)]
cell_fill = ["#c9ced6", "#8d939b", "#eeeeee", "#8d939b", "#eeeeee", "#8d939b", "#eeeeee", "#8d939b", "#ee1010"]
for (a, b), f in zip(cell_x, cell_fill):
    prect(a, 24, b, 33, f, "#6f757c", 0.8, "above")
# data window backdrop
prect(3, 34, 50, 112, "rgba(244,244,238,0.88)", "rgba(244,244,238,0.88)", 0, "above")

fig.update_layout(shapes=shapes)

# ---------------- annotations ----------------
ann = []


def ptext(x, y, text, size=8, color="#333", anchor="left", weight="normal", family=FONT):
    ann.append(dict(xref="paper", yref="paper", x=fx(x), y=fy(y), text=text, showarrow=False,
                    xanchor=anchor, yanchor="middle", borderpad=0,
                    font=dict(family=family, size=size, color=color, weight=weight)))


ptext(16, 12, "INDEX:$SPX,60 -- S&P 500 INDEX", 8.5, "#2b2b2b")
ptext(677.5, 12, "_", 9, "#333", "center")
ptext(699.5, 11, "□", 9, "#333", "center")
ptext(722.5, 11, "✕", 9, "#333", "center")
ptext(636, 10.5, "Scale", 5.5, "#333", "center")
ptext(655, 10.5, "Ind", 5.5, "#333", "center")

for (a, b), t in zip(cell_x, info_cells):
    col = "#ffffff" if t in ("H", "L", "T", "N") else ("#6a0000" if t.startswith("-") else "#222")
    ptext(b - 1.5, 28.8, t, 7, col, "right")

for i, (lab, val) in enumerate(zip(data_window_labels, data_window_values)):
    yy = 37.5 + i * 7.75
    ptext(5, yy, lab, 7, "#8a8a8a")
    ptext(26, yy, val, 7, "#8a8a8a")

# date labels for the upper and lower windows


def date_text(xp, ypx, lab):
    ann.append(dict(xref="paper", yref="paper", x=xp, y=fy(ypx), text=lab, showarrow=False,
                    xanchor="left", yanchor="middle", borderpad=0,
                    font=dict(family=FONT, size=7, color="#333")))


for lab, b in zip(day_labels, day_first_bar):
    date_text(upper_paper_x(b - 0.6), 389, lab)
    date_text(lower_paper_x(b - 0.6), 466, lab)
for lab, b in zip(month_names, month_first_bar):
    date_text(upper_paper_x(b - 0.6), 396.5, lab)
    date_text(lower_paper_x(b - 0.6), 474.5, lab)

# study titles
ptext(4, 279, "MACD(6,13,8)", 7, "#333")
ptext(4, 336, "StochRSI(14,21,3,3)", 7, "#333")
ptext(4, 406.5, "MACD(12,26,9)", 7, "#333")

# marks drawn on the chart
for t, bx, pv in price_marks:
    ann.append(dict(xref="x", yref="y", x=bx, y=pv, text=t, showarrow=False,
                    font=dict(family=FONT, size=8, color="#111", weight="bold")))
for t, xa, ya, bx, v, col in (("d", "x2", "y2", 82.2, 7.6, "#e02020"), ("d", "x3", "y3", 5.4, -1.5, "#1f8a1f"),
                              ("d", "x3", "y3", 42.2, 72, "#8a1010"), ("d", "x4", "y4", 5.7, -331, "#1f8a1f"),
                              ("d", "x4", "y4", 156.0, 745, "#d02020")):
    ann.append(dict(xref=xa, yref=ya, x=bx, y=v, text=t, showarrow=False,
                    font=dict(family=FONT, size=9, color=col, weight="bold")))

# value boxes on the right scale


def vbox(ya, v, text, bg, fg="#ffffff", h=8):
    ann.append(dict(xref="paper", yref=ya, x=fx(705), y=v, text=text, showarrow=False, xanchor="left",
                    yanchor="middle", bgcolor=bg, width=30, height=h, borderpad=0, align="left",
                    font=dict(family=FONT, size=7, color=fg)))


vbox("y", 2062.9, " ", "#e010e0")
vbox("y", 2058.3, " ", "#e02020")
vbox("y", 2060.6, "2060.97", "#000000")
vbox("y", 2044.72, "2044.72", "#1a1af0")
vbox("y2", 7.6, " ", "#14146e", h=6)
vbox("y2", 5.5, "6.04", "#e05a1a")
vbox("y2", -0.5, "-1.63", "#128a12")
vbox("y3", 102.0, " ", "#14146e", h=6)
vbox("y3", 88.0, "80.23", "#f0208c")
vbox("y4", 306, "325.51", "#14146e")
vbox("y4", 77, "87.73", "#e05a1a")
vbox("y4", -204, "-227.79", "#128a12")

fig.update_layout(annotations=ann)

fig.write_html("out.html", post_script="document.body.style.margin='0px';document.body.style.overflow='hidden';")
